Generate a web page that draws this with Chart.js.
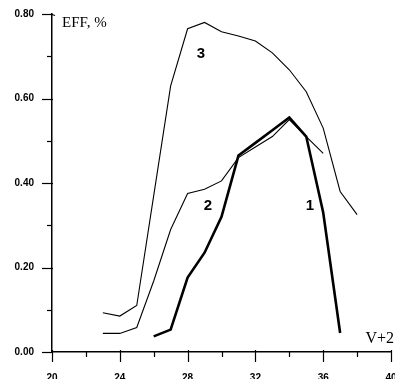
<!DOCTYPE html>
<html>
<head>
<meta charset="utf-8">
<script src="https://cdn.jsdelivr.net/npm/chart.js@4/dist/chart.umd.min.js"></script>
<style>
html,body{margin:0;padding:0;background:#fff;overflow:hidden;width:395px;height:379px;}
canvas{display:block;}
</style>
</head>
<body>
<canvas id="c" width="395" height="392"></canvas>
<script>
// Data
const xTicks = [20, 24, 28, 32, 36, 40];
const yTicks = [0.00, 0.20, 0.40, 0.60, 0.80];
const v1 = [26, 27, 28, 29, 30, 31, 32, 33, 34, 35, 36, 37];
const eff1 = [0.037, 0.053, 0.176, 0.235, 0.32, 0.465, 0.495, 0.525, 0.555, 0.51, 0.33, 0.045];
const v2 = [23, 24, 25, 26, 27, 28, 29, 30, 31, 32, 33, 34, 35, 36];
const eff2 = [0.044, 0.044, 0.058, 0.168, 0.29, 0.375, 0.385, 0.405, 0.46, 0.485, 0.51, 0.55, 0.51, 0.47];
const v3 = [23, 24, 25, 26, 27, 28, 29, 30, 31, 32, 33, 34, 35, 36, 37, 38];
const eff3 = [0.093, 0.085, 0.11, 0.37, 0.63, 0.765, 0.78, 0.758, 0.748, 0.736, 0.708, 0.668, 0.616, 0.53, 0.38, 0.325];
const curveLabels = ['1', '2', '3'];
const yTitle = 'EFF, %';
const xTitle = 'V+2';

const pts = (xs, ys) => xs.map((x, i) => ({x: x, y: ys[i]}));

const tickPlugin = {
  id: 'ticksAndText',
  afterDraw(chart) {
    const ctx = chart.ctx;
    const xs = chart.scales.x, ys = chart.scales.y;
    const ca = chart.chartArea;
    ctx.save();
    ctx.strokeStyle = '#000';
    ctx.lineWidth = 1.2;
    for (let i = 0; i < xTicks.length; i++) {
      const px = Math.round(xs.getPixelForValue(xTicks[i])) + 0.5;
      ctx.beginPath(); ctx.moveTo(px, ca.bottom - 2); ctx.lineTo(px, ca.bottom + 10); ctx.stroke();
      if (i < xTicks.length - 1) {
        const mx = Math.round(xs.getPixelForValue((xTicks[i] + xTicks[i + 1]) / 2)) + 0.5;
        ctx.beginPath(); ctx.moveTo(mx, ca.bottom); ctx.lineTo(mx, ca.bottom + 5); ctx.stroke();
      }
    }
    for (let i = 0; i < yTicks.length; i++) {
      const py = Math.round(ys.getPixelForValue(yTicks[i])) + 0.5;
      ctx.beginPath(); ctx.moveTo(ca.left - 10, py); ctx.lineTo(ca.left + 1, py); ctx.stroke();
      if (i < yTicks.length - 1) {
        const my = Math.round(ys.getPixelForValue((yTicks[i] + yTicks[i + 1]) / 2)) + 0.5;
        ctx.beginPath(); ctx.moveTo(ca.left - 5, my); ctx.lineTo(ca.left, my); ctx.stroke();
      }
    }
    const ty = Math.round(ys.getPixelForValue(0.8)) + 0.5;
    ctx.beginPath(); ctx.moveTo(ca.left, ty); ctx.lineTo(ca.left + 3, ty + 1); ctx.stroke();

    ctx.fillStyle = '#000';
    ctx.textBaseline = 'alphabetic';
    ctx.textAlign = 'left';
    ctx.font = '15px "Liberation Serif", "Times New Roman", serif';
    ctx.fillText(yTitle, ca.left + 10, ca.top + 13);
    ctx.font = '16px "Liberation Serif", "Times New Roman", serif';
    ctx.textAlign = 'right';
    ctx.fillText(xTitle, ca.right + 3, ca.bottom - 9);

    ctx.font = 'bold 15px "Liberation Sans", Arial, sans-serif';
    ctx.textAlign = 'center';
    ctx.fillText(curveLabels[2], ca.left + 149, ca.top + 44);
    ctx.fillText(curveLabels[1], ca.left + 156, ca.top + 196);
    ctx.fillText(curveLabels[0], ca.left + 258, ca.top + 196);
    ctx.restore();
  }
};

function zeroPad(s) { s.paddingLeft = 0; s.paddingRight = 0; s.paddingTop = 0; s.paddingBottom = 0; }

new Chart(document.getElementById('c'), {
  type: 'line',
  data: {
    datasets: [
      {label: '1', data: pts(v1, eff1), borderColor: '#000', borderWidth: 2.6, pointRadius: 0, tension: 0, fill: false},
      {label: '2', data: pts(v2, eff2), borderColor: '#000', borderWidth: 1.1, pointRadius: 0, tension: 0, fill: false},
      {label: '3', data: pts(v3, eff3), borderColor: '#000', borderWidth: 1.1, pointRadius: 0, tension: 0, fill: false}
    ]
  },
  plugins: [tickPlugin],
  options: {
    responsive: false,
    animation: false,
    events: [],
    layout: {padding: {top: 14, right: 4, left: 0, bottom: 0}},
    plugins: {legend: {display: false}, tooltip: {enabled: false}},
    scales: {
      x: {
        type: 'linear', min: 20, max: 40,
        afterFit(s) { s.height = 40; zeroPad(s); },
        afterBuildTicks(s) { s.ticks = xTicks.map(v => ({value: v})); },
        grid: {display: true, drawOnChartArea: false, drawTicks: false, color: 'rgba(0,0,0,0)'},
        border: {display: true, color: '#000', width: 1.5},
        ticks: {padding: 20, color: '#000', maxRotation: 0, autoSkip: false,
          font: {family: '"Liberation Sans", Arial, sans-serif', size: 10, weight: 'bold'},
          callback: v => String(v)}
      },
      y: {
        type: 'linear', min: 0, max: 0.8,
        afterFit(s) { s.width = 52; zeroPad(s); },
        afterBuildTicks(s) { s.ticks = yTicks.map(v => ({value: v})); },
        grid: {display: true, drawOnChartArea: false, drawTicks: false, color: 'rgba(0,0,0,0)'},
        border: {display: true, color: '#000', width: 1.5},
        ticks: {padding: 18, color: '#000', autoSkip: false,
          font: {family: '"Liberation Sans", Arial, sans-serif', size: 10, weight: 'bold'},
          callback: v => Number(v).toFixed(2)}
      }
    }
  }
});
</script>
</body>
</html>
